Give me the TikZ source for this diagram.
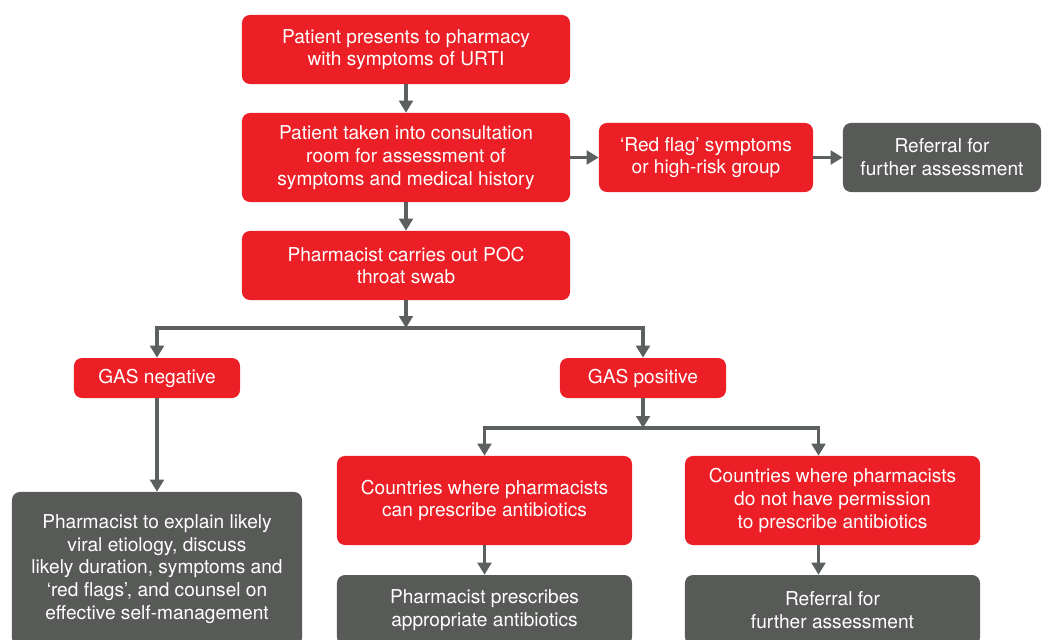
\documentclass[tikz,border=0pt]{standalone}
\usepackage{fontspec}
\setmainfont{TeX Gyre Heros}
\usetikzlibrary{positioning,arrows.meta}
\definecolor{flagred}{RGB}{236,30,38}
\definecolor{slate}{RGB}{88,90,88}
\definecolor{arrowgrey}{RGB}{92,96,96}

\begin{document}
\begin{tikzpicture}[x=0.025cm,y=-0.025cm,>={Triangle[length=3mm,width=3.4mm]},
  box/.style={rounded corners=2mm,text=white,align=center,inner sep=0pt,
    font=\fontsize{13.6}{16.2}\selectfont},
  redbox/.style={box,fill=flagred},
  greybox/.style={box,fill=slate},
  link/.style={->,draw=arrowgrey,line width=2.2pt}]
\useasboundingbox (0,0) rectangle (1044,639);
\clip (0,0) rectangle (1044,639);

% main column
\node[redbox,minimum width=8.2cm,minimum height=1.725cm] (present) at (406,49.5)
  {Patient presents to pharmacy\\with symptoms of URTI};
\node[redbox,minimum width=8.2cm,minimum height=2.225cm] (consult) at (406,157.5)
  {Patient taken into consultation\\room for assessment of\\symptoms and medical history};
\node[redbox,minimum width=8.2cm,minimum height=1.725cm] (swab) at (406,265.5)
  {Pharmacist carries out POC\\throat swab};

% side branch
\node[redbox,minimum width=5.35cm,minimum height=1.725cm] (redflag) at (706,157.5)
  {‘Red flag’ symptoms\\or high-risk group};
\node[greybox,minimum width=4.95cm,minimum height=1.725cm] (referA) at (942,157.5)
  {Referral for\\further assessment};

% test result
\node[redbox,minimum width=4.15cm,minimum height=1cm] (neg) at (157,378) {GAS negative};
\node[redbox,minimum width=4.15cm,minimum height=1cm] (pos) at (643,378) {GAS positive};
\node[greybox,minimum width=7.25cm,minimum height=3.85cm] (counsel) at (157,569)
  {Pharmacist to explain likely\\viral etiology, discuss\\likely duration, symptoms and\\‘red flags’, and counsel on\\effective self-management};

% prescribing rights
\node[redbox,minimum width=7.375cm,minimum height=2.225cm] (can) at (484.5,500.5)
  {Countries where pharmacists\\can prescribe antibiotics};
\node[redbox,minimum width=7.375cm,minimum height=2.225cm] (cannot) at (832.5,500.5)
  {Countries where pharmacists\\do not have permission\\to prescribe antibiotics};
\node[greybox,minimum width=7.375cm,minimum height=1.75cm] (prescribe) at (484.5,610)
  {Pharmacist prescribes\\appropriate antibiotics};
\node[greybox,minimum width=7.375cm,minimum height=1.75cm] (referB) at (832.5,610)
  {Referral for\\further assessment};

\coordinate (split1) at (406,328);
\coordinate (split2) at (643,428);

\draw[link] (present) -- (consult);
\draw[link] (consult) -- (swab);
\draw[link] (consult) -- (redflag);
\draw[link] (redflag) -- (referA);
\draw[link] (swab) -- (split1);
\draw[link] (split1) -| (neg);
\draw[link] (split1) -| (pos);
\draw[link] (neg) -- (counsel);
\draw[link] (pos) -- (split2);
\draw[link] (split2) -| (can);
\draw[link] (split2) -| ([xshift=-0.35cm]cannot.north);
\draw[link] (can) -- (prescribe);
\draw[link] ([xshift=-0.35cm]cannot.south) -- ([xshift=-0.35cm]referB.north);
\end{tikzpicture}
\end{document}
